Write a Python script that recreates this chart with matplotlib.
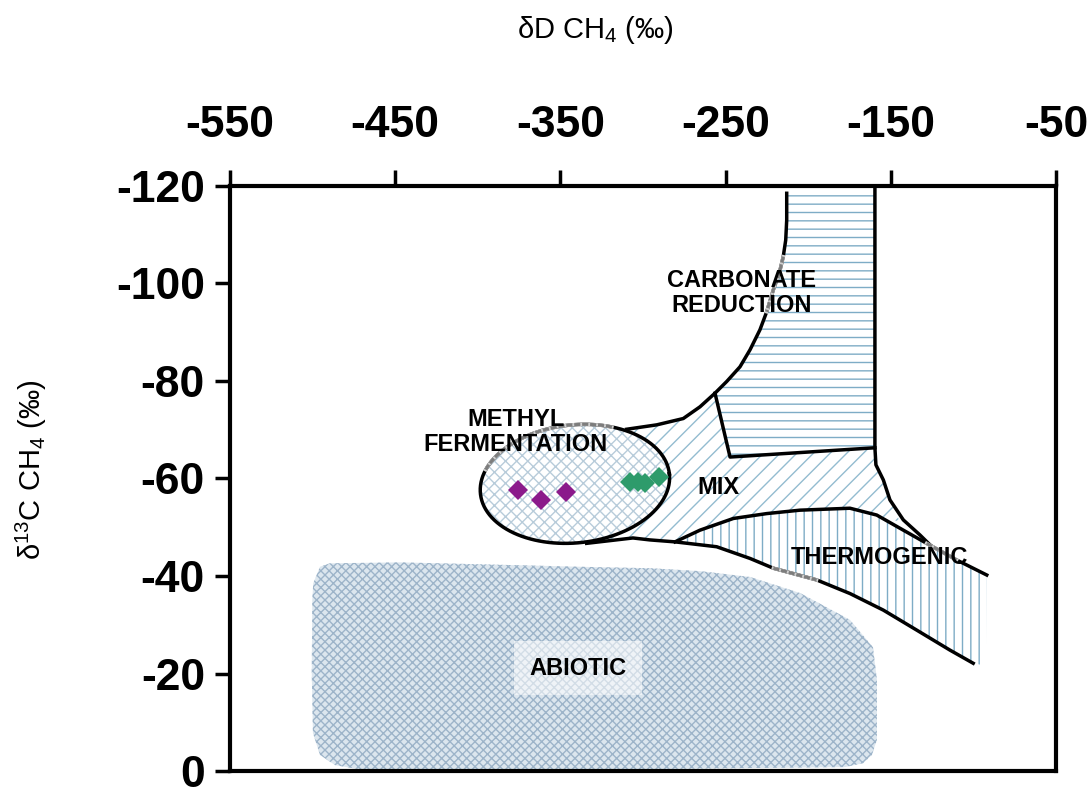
import numpy as np
import matplotlib.pyplot as plt
from matplotlib.patches import Polygon

plt.rcParams['font.family'] = ['Liberation Sans', 'DejaVu Sans']
plt.rcParams['mathtext.fontset'] = 'custom'
plt.rcParams['mathtext.rm'] = 'Liberation Sans'
plt.rcParams['mathtext.it'] = 'Liberation Sans:italic'
plt.rcParams['mathtext.bf'] = 'Liberation Sans:bold'
plt.rcParams['axes.unicode_minus'] = False
plt.rcParams['hatch.linewidth'] = 1.0

# Samples (dD, d13C)
methyl_dD = [-375.7, -361.7, -346.6]
methyl_d13C = [-57.6, -55.6, -57.2]
mix_dD = [-307.9, -302.8, -298.8, -290.1]
mix_d13C = [-59.3, -59.3, -59.0, -60.4]

x_ticks = [-550, -450, -350, -250, -150, -50]
y_ticks = [-120, -100, -80, -60, -40, -20, 0]

# Field boundaries (dD, d13C)
co2_curve_x = [-213.0, -213.0, -213.6, -215.1, -217.5, -221.1, -225.1, -229.2,
               -235.2, -241.3, -249.3, -256.4, -265.5, -275.6, -291.7, -309.9]
co2_curve_y = [-118.5, -113.0, -108.9, -105.5, -102.1, -98.7, -94.2, -90.5,
               -86.4, -82.9, -79.9, -77.5, -74.7, -72.3, -71.0, -70.1]
co2_inner_x = [-256.4, -247.3, -159.6]
co2_inner_y = [-77.5, -64.4, -66.3]
right_curve_x = [-159.6, -159.6, -159.0, -154.5, -150.5, -142.4, -132.3, -126.0]
right_curve_y = [-120.0, -66.3, -62.8, -59.7, -55.6, -51.5, -48.4, -46.3]
thermo_top_x = [-280.6, -265.5, -245.3, -225.1, -205.0, -174.7, -158.5, -142.4,
                -128.3, -110.2, -91.9]
thermo_top_y = [-47.0, -49.4, -51.8, -52.8, -53.5, -53.9, -52.5, -49.4,
                -46.7, -43.3, -40.2]
lower_curve_x = [-334.1, -306.1, -295.8, -280.6, -255.4, -235.2, -221.1, -194.9,
                 -174.7, -154.5, -134.3, -114.2, -100.1]
lower_curve_y = [-46.7, -47.8, -47.4, -47.0, -46.0, -43.6, -41.6, -39.2,
                 -36.4, -33.0, -28.9, -24.8, -22.1]
abiotic_x = [-489.5, -447.1, -386.6, -326.0, -295.8, -265.5, -235.2, -204.9,
             -174.7, -160.8, -158.4, -158.4, -161.4, -166.8, -177.7, -326.0,
             -470.7, -486.4, -495.5, -499.8, -500.5, -500.2, -499.6, -495.5]
abiotic_y = [-42.6, -42.8, -42.3, -41.8, -41.6, -41.0, -39.8, -36.5,
             -31.0, -25.4, -18.7, -6.4, -3.3, -1.6, -0.8, -0.3,
             -0.3, -1.2, -3.3, -7.8, -20.0, -35.0, -38.5, -41.9]
# methyl fermentation ellipse: centre, semi-axes (px), tilt (deg)
ell_center = (-341.2, -58.9)
ell_axes_px = (95, 59)
ell_tilt = 6

fig = plt.figure(figsize=(10.91, 7.89), dpi=100)
ax = fig.add_axes([0.2108, 0.0228, 0.7571, 0.7415])
ax.set_xlim(-550, -50)
ax.set_ylim(0, -120)

# pixel scale of the axes, used to draw the ellipse round in screen space
sx = 826 / 500.0
sy = 585 / 120.0
t = np.linspace(0, 2 * np.pi, 240)
th = np.radians(ell_tilt)
dxp = ell_axes_px[0] * np.cos(t) * np.cos(th) - ell_axes_px[1] * np.sin(t) * np.sin(th)
dyp = ell_axes_px[0] * np.cos(t) * np.sin(th) + ell_axes_px[1] * np.sin(t) * np.cos(th)
ell_x = ell_center[0] + dxp / sx
ell_y = ell_center[1] - dyp / sy

hatch_blue = '#7eacc6'

# abiotic
ax.add_patch(Polygon(np.column_stack([abiotic_x, abiotic_y]), closed=True,
                     facecolor='#dce6ee', edgecolor='#9db4c9', hatch='xxxx',
                     linewidth=0, zorder=1))

# carbonate reduction
cr_x = co2_curve_x[:12] + co2_inner_x[1:] + [-159.6]
cr_y = co2_curve_y[:12] + co2_inner_y[1:] + [-119.3]
ax.add_patch(Polygon(np.column_stack([cr_x, cr_y]), closed=True,
                     facecolor='white', edgecolor=hatch_blue, hatch='--',
                     linewidth=0, zorder=1))

# mix
mix_x = (co2_curve_x[11:][::-1] + co2_inner_x[1:] + right_curve_x[2:5] + [-144.4]
         + thermo_top_x[:7][::-1] + lower_curve_x[:3][::-1] + [-340.0])
mix_y = (co2_curve_y[11:][::-1] + co2_inner_y[1:] + right_curve_y[2:5] + [-51.1]
         + thermo_top_y[:7][::-1] + lower_curve_y[:3][::-1] + [-60.0])
ax.add_patch(Polygon(np.column_stack([mix_x, mix_y]), closed=True,
                     facecolor='white', edgecolor='#93bcd0', hatch='//',
                     linewidth=0, zorder=1))

# thermogenic
th_x = thermo_top_x + [-92.5, -92.5] + lower_curve_x[3:][::-1]
th_y = thermo_top_y + [-21.6, -21.6] + lower_curve_y[3:][::-1]
ax.add_patch(Polygon(np.column_stack([th_x, th_y]), closed=True,
                     facecolor='white', edgecolor=hatch_blue, hatch='||',
                     linewidth=0, zorder=1))

# methyl fermentation ellipse
ax.add_patch(Polygon(np.column_stack([ell_x, ell_y]), closed=True,
                     facecolor='white', edgecolor='#b8ccda', hatch='xxx',
                     linewidth=0, zorder=2))

# boundary lines
lw = 2.5
ax.plot(ell_x, ell_y, color='black', lw=lw, zorder=3)
ax.plot(co2_curve_x, co2_curve_y, color='black', lw=lw, zorder=3)
ax.plot(co2_inner_x, co2_inner_y, color='black', lw=lw, zorder=3)
ax.plot(right_curve_x, right_curve_y, color='black', lw=lw, zorder=3)
ax.plot(thermo_top_x, thermo_top_y, color='black', lw=lw, zorder=3)
ax.plot(lower_curve_x, lower_curve_y, color='black', lw=lw, zorder=3)

# faded grey stretches of the outlines
sel = (t > 1.1) & (t < 2.75)
grey_parts = [(ell_x[sel], ell_y[sel]),
              (co2_curve_x[3:7], co2_curve_y[3:7]),
              (thermo_top_x[8:10], thermo_top_y[8:10]),
              (lower_curve_x[6:8], lower_curve_y[6:8])]
for gx, gy in grey_parts:
    ax.plot(gx, gy, color='#d0d0d0', lw=lw, zorder=3.1)
    ax.plot(gx, gy, color='#7d7d7d', lw=lw - 0.3, ls=(0, (2, 0.6)), zorder=3.2)

# labels
lab = dict(fontsize=17, fontweight='bold', ha='center', va='center', zorder=5,
           linespacing=1.12)
ax.text(-240.1, -98.1, 'CARBONATE\nREDUCTION', **lab)
ax.text(-376.9, -69.5, 'METHYL\nFERMENTATION', **lab)
ax.text(-254.6, -58.1, 'MIX', **lab)
ax.text(-157.1, -43.7, 'THERMOGENIC', **lab)
ax.text(-339.3, -21.1, 'ABIOTIC', bbox=dict(facecolor='white', alpha=0.55,
        edgecolor='none', pad=11), **lab)

# samples
ax.plot(methyl_dD, methyl_d13C, 'D', color='#8b1a8b', markersize=10.5,
        markeredgewidth=0, zorder=6)
ax.plot(mix_dD, mix_d13C, 'D', color='#2e9b6b', markersize=10.5,
        markeredgewidth=0, zorder=6)

# axes styling
ax.xaxis.tick_top()
ax.set_xticks(x_ticks)
ax.set_xticklabels([str(v) for v in x_ticks], fontsize=32, fontweight='bold')
ax.set_yticks(y_ticks)
ax.set_yticklabels([str(v) for v in y_ticks], fontsize=32, fontweight='bold')
ax.tick_params(axis='x', direction='out', length=11.5, width=2.5, pad=17)
ax.tick_params(axis='y', direction='out', length=11, width=2.5, pad=7)
for s in ax.spines.values():
    s.set_linewidth(3)

ax.text(0.442, 1.267, r'δD CH$_4$ (‰)', transform=ax.transAxes,
        ha='center', va='center', fontsize=21)
ax.text(-0.24, 0.515, r'δ$^{13}$C CH$_4$ (‰)', transform=ax.transAxes,
        ha='center', va='center', fontsize=21, rotation=90)

fig.savefig('out.png', dpi=100)
